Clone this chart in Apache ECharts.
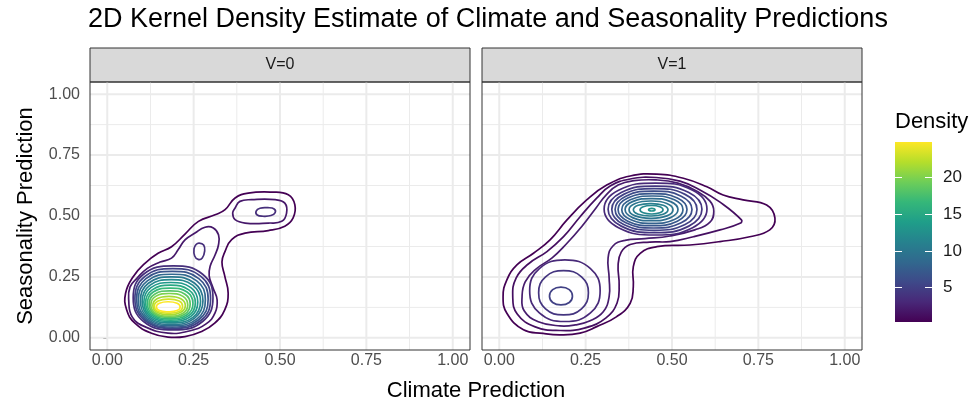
<!DOCTYPE html>
<html><head><meta charset="utf-8">
<script src="https://cdn.jsdelivr.net/npm/echarts@6/dist/echarts.min.js"></script>
<style>html,body{margin:0;padding:0;background:#fff}#c{width:974px;height:402px}</style>
</head><body><div id="c"></div>
<script>
// ---------- texts ----------
const chartTitle = "2D Kernel Density Estimate of Climate and Seasonality Predictions";
const panelLabels = ["V=0", "V=1"];
const xTitle = "Climate Prediction";
const yTitle = "Seasonality Prediction";
const legendTitle = "Density";
// ---------- scales ----------
const axisBreaks = [0, 0.25, 0.5, 0.75, 1];
const minorBreaks = [0.125, 0.375, 0.625, 0.875];
const legendBreaks = [5, 10, 15, 20];
const densityLimits = [0.33, 24.8];
// contour levels (density) per panel
const v0Levels = [0.33, 1.96, 3.59, 5.22, 6.85, 8.48, 10.11, 11.74, 13.37, 15.0, 16.63, 18.26, 19.89, 21.52, 23.15, 24.78];
const v1Levels = [0.33, 1.28, 2.23, 3.18, 4.13, 5.08, 6.03, 6.98, 7.93, 8.88, 9.83, 10.78, 11.73, 12.68];

// ---------- V=0 contour lines [climate, seasonality] ----------
const v0_c1 = [[.176,.003],[.128,.019],[.080,.060],[.056,.115],[.053,.183],[.075,.251],[.109,.306],[.147,.347],[.186,.374],[.225,.426],[.264,.478],[.312,.505],[.341,.526],[.370,.574],[.408,.594],[.476,.598],[.524,.587],[.543,.546],[.538,.492],[.514,.458],[.466,.440],[.399,.430],[.360,.403],[.341,.355],[.332,.311],[.340,.254],[.350,.183],[.340,.115],[.311,.060],[.273,.026],[.225,.005]];
const v0_c2_low = [[.176,.019],[.110,.045],[.072,.086],[.062,.156],[.066,.209],[.087,.246],[.116,.285],[.153,.311],[.186,.327],[.205,.361],[.225,.402],[.254,.430],[.283,.454],[.307,.451],[.322,.423],[.322,.382],[.312,.340],[.298,.295],[.295,.254],[.306,.205],[.318,.156],[.312,.102],[.286,.057],[.240,.029]];
const v0_c2_up = [[.370,.533],[.384,.560],[.418,.567],[.486,.567],[.514,.553],[.519,.512],[.505,.478],[.466,.471],[.399,.471],[.370,.485],[.363,.512]];
const v0_c3_neck = [[.266,.389],[.279,.381],[.282,.357],[.275,.328],[.263,.322],[.253,.336],[.251,.365],[.257,.383]];
const v0_c3_up = [[.431,.520],[.442,.532],[.465,.534],[.483,.529],[.486,.514],[.474,.502],[.451,.499],[.434,.504]];
const v0_k1 = [[.191,.295],[.276,.261],[.306,.164],[.276,.067],[.191,.033],[.105,.067],[.075,.164],[.105,.261]];
const v0_k2 = [[.190,.284],[.271,.252],[.299,.161],[.271,.071],[.190,.039],[.109,.071],[.080,.161],[.109,.252]];
const v0_k3 = [[.188,.273],[.265,.243],[.292,.158],[.265,.074],[.188,.044],[.112,.074],[.085,.158],[.112,.243]];
const v0_k4 = [[.187,.261],[.259,.234],[.284,.156],[.259,.077],[.187,.050],[.116,.077],[.090,.156],[.116,.234]];
const v0_k5 = [[.186,.250],[.253,.224],[.277,.152],[.253,.081],[.186,.055],[.119,.081],[.096,.152],[.119,.224]];
const v0_k6 = [[.185,.239],[.248,.215],[.270,.150],[.248,.084],[.185,.061],[.123,.084],[.101,.150],[.123,.215]];
const v0_k7 = [[.184,.227],[.242,.206],[.262,.147],[.242,.088],[.184,.067],[.126,.088],[.106,.147],[.126,.206]];
const v0_k8 = [[.183,.216],[.236,.197],[.255,.144],[.236,.091],[.183,.073],[.130,.091],[.111,.144],[.130,.197]];
const v0_k9 = [[.182,.204],[.231,.188],[.248,.141],[.231,.095],[.182,.078],[.133,.095],[.116,.141],[.133,.188]];
const v0_k10 = [[.181,.193],[.225,.179],[.240,.139],[.225,.098],[.181,.084],[.137,.098],[.121,.139],[.137,.179]];
const v0_k11 = [[.180,.182],[.219,.170],[.233,.135],[.219,.101],[.180,.089],[.140,.101],[.126,.135],[.140,.170]];
const v0_k12 = [[.179,.170],[.213,.160],[.226,.133],[.213,.105],[.179,.095],[.144,.105],[.132,.133],[.144,.160]];
const v0_k13 = [[.177,.159],[.208,.151],[.218,.130],[.208,.108],[.177,.101],[.147,.108],[.136,.130],[.147,.151]];
const v0_k14 = [[.176,.148],[.202,.142],[.211,.127],[.202,.112],[.176,.107],[.151,.112],[.142,.127],[.151,.142]];

// ---------- V=1 contour lines ----------
const v1_r1 = [[.176,.012],[.127,.018],[.070,.033],[.022,.101],[.011,.169],[.022,.238],[.051,.299],[.099,.347],[.147,.402],[.196,.484],[.253,.566],[.311,.627],[.379,.664],[.456,.672],[.533,.655],[.601,.620],[.648,.586],[.706,.566],[.774,.545],[.798,.491],[.783,.443],[.725,.415],[.639,.395],[.552,.381],[.456,.374],[.408,.347],[.388,.292],[.388,.210],[.379,.142],[.340,.087],[.282,.046],[.234,.019]];
const v1_r2 = [[.176,.030],[.104,.045],[.052,.098],[.039,.169],[.049,.246],[.084,.303],[.138,.354],[.186,.415],[.234,.497],[.282,.573],[.321,.623],[.379,.652],[.454,.658],[.523,.643],[.581,.607],[.639,.557],[.701,.484],[.697,.470],[.639,.443],[.562,.415],[.494,.395],[.436,.393],[.379,.383],[.353,.352],[.344,.299],[.347,.217],[.341,.143],[.309,.082],[.249,.041]];
const v1_r3 = [[.176,.049],[.113,.066],[.072,.111],[.066,.169],[.075,.230],[.107,.283],[.153,.328],[.194,.385],[.240,.459],[.280,.533],[.309,.586],[.344,.627],[.390,.645],[.454,.648],[.517,.635],[.572,.602],[.610,.561],[.621,.520],[.610,.475],[.566,.443],[.494,.418],[.422,.407],[.364,.400],[.329,.377],[.315,.328],[.318,.246],[.318,.169],[.301,.107],[.263,.070],[.220,.053]];
const v1_r4 = [[.190,.320],[.264,.284],[.292,.193],[.264,.102],[.190,.067],[.116,.102],[.088,.193],[.116,.284]];
const v1_b1 = [[.186,.276],[.238,.250],[.258,.185],[.238,.119],[.186,.094],[.134,.119],[.114,.185],[.134,.250]];
const v1_e = [[.1786,.208],[.2026,.198],[.2118,.171],[.2026,.145],[.1786,.135],[.1546,.145],[.1454,.171],[.1546,.198]];
const v1_t1 = [[.4524,.6352],[.5596,.6054],[.6012,.5287],[.5596,.4520],[.4524,.4221],[.3452,.4520],[.3035,.5287],[.3452,.6054]];
const v1_t2 = [[.4509,.6230],[.5487,.5962],[.5867,.5273],[.5487,.4584],[.4509,.4316],[.3531,.4584],[.3150,.5273],[.3531,.5962]];
const v1_t3 = [[.4490,.6127],[.5378,.5888],[.5723,.5271],[.5378,.4654],[.4490,.4414],[.3602,.4654],[.3257,.5271],[.3602,.5888]];
const v1_t4 = [[.4466,.6025],[.5267,.5813],[.5578,.5267],[.5267,.4721],[.4466,.4508],[.3665,.4721],[.3353,.5267],[.3665,.5813]];
const v1_t5 = [[.4437,.5922],[.5155,.5737],[.5434,.5262],[.5155,.4787],[.4437,.4602],[.3719,.4787],[.3439,.5262],[.3719,.5737]];
const v1_t6 = [[.4432,.5820],[.5070,.5664],[.5318,.5261],[.5070,.4858],[.4432,.4701],[.3794,.4858],[.3546,.5261],[.3794,.5664]];
const v1_t7 = [[.4408,.5717],[.4959,.5590],[.5173,.5262],[.4959,.4934],[.4408,.4807],[.3857,.4934],[.3642,.5262],[.3857,.5590]];
const v1_t8 = [[.4393,.5615],[.4851,.5516],[.5029,.5261],[.4851,.5006],[.4393,.4906],[.3935,.5006],[.3757,.5261],[.3935,.5516]];
const v1_t9 = [[.4383,.5512],[.4744,.5440],[.4884,.5256],[.4744,.5072],[.4383,.5000],[.4022,.5072],[.3882,.5256],[.4022,.5440]];
const v1_t10 = [[.4408,.5430],[.4648,.5381],[.4740,.5256],[.4648,.5131],[.4408,.5082],[.4168,.5131],[.4075,.5256],[.4168,.5381]];
const v1_dot = [[.4415,.5316],[.4483,.5300],[.4509,.5260],[.4483,.5220],[.4415,.5205],[.4347,.5220],[.4321,.5260],[.4347,.5300]];

// contour -> level index
const v0Contours = [[v0_c1,0],[v0_c2_low,1],[v0_c2_up,1],[v0_c3_neck,2],[v0_c3_up,2],[v0_k1,2],[v0_k2,3],[v0_k3,4],[v0_k4,5],[v0_k5,6],[v0_k6,7],[v0_k7,8],[v0_k8,9],[v0_k9,10],[v0_k10,11],[v0_k11,12],[v0_k12,13],[v0_k13,14],[v0_k14,15]];
const v1Contours = [[v1_r1,0],[v1_r2,1],[v1_r3,2],[v1_r4,3],[v1_b1,4],[v1_e,5],[v1_t1,3],[v1_t2,4],[v1_t3,5],[v1_t4,6],[v1_t5,7],[v1_t6,8],[v1_t7,9],[v1_t8,10],[v1_t9,11],[v1_t10,12],[v1_dot,13]];

// ---------- styling ----------
const FF = "'Liberation Sans', Arial, Helvetica, sans-serif";
const viridisStops = ['#440154','#482878','#3e4989','#31688e','#26828e','#1f9e89','#35b779','#6ece58','#b5de2b','#fde725'];
function hex2rgb(h){return [parseInt(h.slice(1,3),16),parseInt(h.slice(3,5),16),parseInt(h.slice(5,7),16)];}
function viridis(t){
  t = Math.max(0, Math.min(1, t));
  const p = t * (viridisStops.length - 1), i = Math.min(Math.floor(p), viridisStops.length - 2), f = p - i;
  const a = hex2rgb(viridisStops[i]), b = hex2rgb(viridisStops[i+1]);
  return 'rgb(' + a.map((v,k)=>Math.round(v + (b[k]-v)*f)).join(',') + ')';
}
const lo = densityLimits[0], hi = densityLimits[1];
const panelGrids = [{left:90, top:82, width:380, height:268}, {left:482, top:82, width:380, height:268}];
const stripTop = 48;
const cbar = {left:895, top:142, width:37, height:180};
const fmt = v => v.toFixed(2);
const AX = {color:'#4d4d4d', fontSize:16, fontFamily:FF};

const chart = echarts.init(document.getElementById('c'), null, {renderer:'canvas', width:974, height:402});

const grid = panelGrids.map(g => Object.assign({}, g, {show:true, borderWidth:0, backgroundColor:'#ffffff'}))
  .concat([Object.assign({}, cbar, {show:false})]);

const xAxis = panelGrids.map((g,i) => ({
  type:'value', gridIndex:i, min:-0.05, max:1.05,
  axisLine:{show:false},
  axisTick:{show:true, customValues:axisBreaks, length:4, lineStyle:{color:'#333333', width:1}},
  axisLabel:Object.assign({customValues:axisBreaks, formatter:fmt, margin:3}, AX),
  splitLine:{show:false}
})).concat([{type:'category', gridIndex:2, data:['bar'], show:false}]);

const yAxis = [
  {type:'value', gridIndex:0, min:-0.05, max:1.05, axisLine:{show:false},
   axisTick:{show:true, customValues:axisBreaks, length:4, lineStyle:{color:'#333333', width:1}},
   axisLabel:Object.assign({customValues:axisBreaks, formatter:fmt, margin:10}, AX),
   splitLine:{show:false}},
  {type:'value', gridIndex:1, min:-0.05, max:1.05, axisLine:{show:false}, axisTick:{show:false}, axisLabel:{show:false}, splitLine:{show:false}},
  {type:'value', gridIndex:2, min:lo, max:hi, position:'right', z:20, axisLine:{show:false},
   axisTick:{show:true, inside:true, customValues:legendBreaks, length:7, lineStyle:{color:'#ffffff', width:1}},
   axisLabel:{customValues:legendBreaks, color:'#1a1a1a', fontSize:17, margin:11, fontFamily:FF},
   splitLine:{show:false}},
  {type:'value', gridIndex:2, min:lo, max:hi, position:'left', z:20, axisLine:{show:false},
   axisTick:{show:true, inside:true, customValues:legendBreaks, length:7, lineStyle:{color:'#ffffff', width:1}},
   axisLabel:{show:false}, splitLine:{show:false}}
];

// background grid lines drawn through the axis scales
function gridLineSeries(i, values, width){
  return {type:'custom', xAxisIndex:i, yAxisIndex:i, z:1, silent:true, animation:false, clip:true,
    data: values.map(v => [v, v]),
    renderItem: (params, api) => {
      const v = values[params.dataIndex];
      const a = api.coord([v, -0.05]), b = api.coord([v, 1.05]);
      const c = api.coord([-0.05, v]), d = api.coord([1.05, v]);
      return {type:'group', children:[
        {type:'line', shape:{x1:a[0], y1:a[1], x2:b[0], y2:b[1]}, style:{stroke:'#ebebeb', lineWidth:width}},
        {type:'line', shape:{x1:c[0], y1:c[1], x2:d[0], y2:d[1]}, style:{stroke:'#ebebeb', lineWidth:width}}
      ]};
    }};
}
function contourSeries(i, list, levels){
  const items = list.map(([pts, li]) => ({pts, color: viridis((levels[li]-lo)/(hi-lo))}));
  return {type:'custom', xAxisIndex:i, yAxisIndex:i, z:3, silent:true, clip:true, animation:false,
    data: items.map(() => [0.5, 0.5]),
    renderItem: (params, api) => {
      const c = items[params.dataIndex];
      return {type:'polygon', shape:{points:c.pts.map(p=>api.coord(p)), smooth:0.45},
              style:{fill:null, stroke:c.color, lineWidth:1.7}};
    }};
}

const series = [
  gridLineSeries(0, minorBreaks, 1), gridLineSeries(0, axisBreaks, 2),
  gridLineSeries(1, minorBreaks, 1), gridLineSeries(1, axisBreaks, 2),
  contourSeries(0, v0Contours, v0Levels),
  contourSeries(1, v1Contours, v1Levels)
];

const gradStops = viridisStops.map((c,k) => ({offset: 1 - k/(viridisStops.length-1), color:c}));
const graphic = [
  {type:'text', x:88, y:6, style:{text:chartTitle, fontSize:27, fontFamily:FF, fill:'#000000'}},
  {type:'text', x:(panelGrids[0].left + panelGrids[1].left + panelGrids[1].width)/2, y:391,
   style:{text:xTitle, fontSize:22, fontFamily:FF, fill:'#000000', align:'center', verticalAlign:'middle'}},
  {type:'text', x:26, y:panelGrids[0].top + panelGrids[0].height/2, rotation:Math.PI/2,
   style:{text:yTitle, fontSize:22, fontFamily:FF, fill:'#000000', align:'center', verticalAlign:'middle'}},
  {type:'text', x:cbar.left, y:122, style:{text:legendTitle, fontSize:22, fontFamily:FF, fill:'#000000', verticalAlign:'middle'}},
  {type:'rect', z:1, shape:{x:cbar.left, y:cbar.top, width:cbar.width, height:cbar.height},
   style:{fill:new echarts.graphic.LinearGradient(0,0,0,1, gradStops)}}
];
panelGrids.forEach((g,i) => {
  graphic.push({type:'rect', shape:{x:g.left, y:stripTop, width:g.width, height:g.top-stripTop}, style:{fill:'#d9d9d9', stroke:'#333333', lineWidth:1}});
  graphic.push({type:'text', x:g.left + g.width/2, y:stripTop + (g.top-stripTop)/2,
    style:{text:panelLabels[i], fontSize:16, fontFamily:FF, fill:'#1a1a1a', align:'center', verticalAlign:'middle'}});
  graphic.push({type:'rect', z:100, shape:{x:g.left, y:g.top, width:g.width, height:g.height}, style:{fill:null, stroke:'#333333', lineWidth:1}});
});

chart.setOption({animation:false, backgroundColor:'#ffffff', grid, xAxis, yAxis, series, graphic});
</script></body></html>
